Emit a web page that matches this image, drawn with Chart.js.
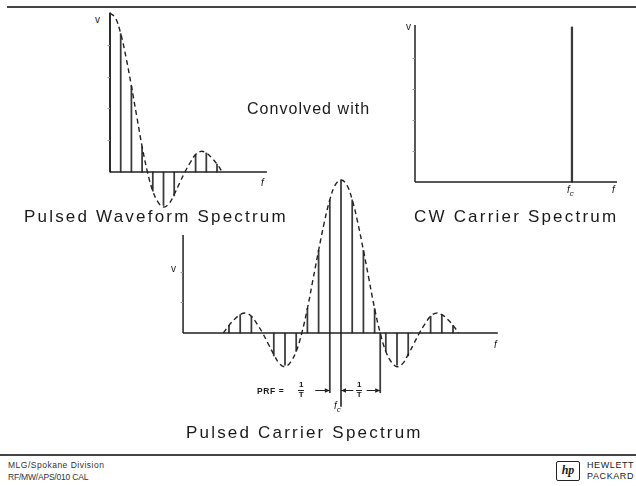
<!DOCTYPE html>
<html>
<head>
<meta charset="utf-8">
<script src="https://cdn.jsdelivr.net/npm/chart.js@4"></script>
<style>
  html, body { margin: 0; padding: 0; background: #fff; }
  #page { position: relative; width: 636px; height: 486px; overflow: hidden; background: #fff;
          font-family: "Liberation Sans", Arial, sans-serif; color: #1a1a1a; }
  canvas { position: absolute; }
  .t { position: absolute; white-space: nowrap; line-height: 1; }
  .title { font-size: 17px; letter-spacing: 2.2px; }
  .ax { font-size: 10px; }
  .sub { font-size: 8px; position: relative; top: 3px; }
  .small { font-size: 8.5px; font-weight: bold; letter-spacing: 0.6px; }
  .frac { display: inline-block; text-align: center; font-size: 8px; font-weight: bold; line-height: 8px; }
  .frac span { display: block; }
  .frac .num { border-bottom: 1px solid #222; padding: 0 1px 1px; }
  .rule { position: absolute; left: 7px; right: 0; height: 1.5px; background: #444; }
  .foot { font-size: 8.5px; color: #333; }
  .logo { position: absolute; left: 556px; top: 461px; width: 22px; height: 18px; border: 1.5px solid #222;
          border-radius: 2px; font: italic bold 12px "Liberation Serif", serif; text-align: center; line-height: 17px; }
  .hp { font-size: 9px; letter-spacing: 0.6px; line-height: 11px; }
</style>
</head>
<body>
<div id="page">
  <div class="rule" style="top:6px;"></div>
  <div class="rule" style="top:454px;left:0;"></div>

  <canvas id="pwChart" style="left:100px;top:5px;" width="175" height="210"></canvas>
  <canvas id="cwChart" style="left:405px;top:15px;" width="220" height="175"></canvas>
  <canvas id="pcChart" style="left:175px;top:172px;" width="330" height="238"></canvas>

  <!-- chart texts -->
  <div class="t ax" style="left:95px;top:15px;">v</div>
  <div class="t ax" style="left:261px;top:178px;font-style:italic;">f</div>
  <div class="t title" style="left:24px;top:208px;">Pulsed Waveform Spectrum</div>

  <div class="t title" style="left:247px;top:101px;font-size:16px;letter-spacing:1.05px;">Convolved with</div>

  <div class="t ax" style="left:406px;top:22px;">v</div>
  <div class="t ax" style="left:567px;top:185px;font-style:italic;">f<span class="sub">c</span></div>
  <div class="t ax" style="left:612px;top:185px;font-style:italic;">f</div>
  <div class="t title" style="left:414px;top:208px;">CW Carrier Spectrum</div>

  <div class="t ax" style="left:171px;top:264px;">v</div>
  <div class="t ax" style="left:494px;top:340px;font-style:italic;">f</div>
  <div class="t small" style="left:257px;top:387px;">PRF =</div>
  <div class="t frac" style="left:298px;top:381px;"><span class="num">1</span><span>T</span></div>
  <div class="t frac" style="left:356px;top:381px;"><span class="num">1</span><span>T</span></div>
  <div class="t ax" style="left:334px;top:401px;font-style:italic;">f<span class="sub">c</span></div>
  <div class="t title" style="left:186px;top:424px;">Pulsed Carrier Spectrum</div>

  <!-- footer -->
  <div class="t foot" style="left:8px;top:461px;letter-spacing:0.5px;">MLG/Spokane Division</div>
  <div class="t foot" style="left:8px;top:473px;letter-spacing:-0.2px;">RF/MW/APS/010 CAL</div>
  <div class="logo">hp</div>
  <div class="t hp" style="left:587px;top:460px;">HEWLETT<br>PACKARD</div>
</div>

<script>
  'use strict';

  // ==================== DATA ====================
  // Pulsed waveform spectrum: spectral lines at multiples of the PRF (index k)
  const pwLineK = [0, 1, 2, 3, 4, 5, 6, 8, 9, 10];
  const pwLineV = [1.00, 0.87, 0.54, 0.16, -0.12, -0.21, -0.15, 0.11, 0.12, 0.05];
  // sin(x)/x envelope
  const pwEnvK = [0, 0.5, 1, 1.5, 2, 2.5, 3, 3.5, 4, 4.5, 5, 5.5, 6, 6.5, 7, 7.5, 8, 8.5, 9, 9.5, 10, 10.5];
  const pwEnvV = [1.00, 0.97, 0.87, 0.72, 0.54, 0.35, 0.16, 0.00, -0.12, -0.19, -0.22, -0.20, -0.14, -0.07, 0.00, 0.06, 0.11, 0.13, 0.12, 0.09, 0.05, 0.00];

  // CW carrier: one line at fc
  const cwLineF = [10];
  const cwLineV = [1.00];

  // Pulsed carrier spectrum: lines centred on fc (k = 0)
  const pcLineK = [-10, -9, -8, -6, -5, -4, -3, -2, -1, 0, 1, 2, 3, 4, 5, 6, 8, 9, 10];
  const pcLineV = [0.05, 0.12, 0.11, -0.15, -0.21, -0.12, 0.16, 0.54, 0.87, 1.00, 0.87, 0.54, 0.16, -0.12, -0.21, -0.15, 0.11, 0.12, 0.05];
  const pcEnvK = [-10.5, -10, -9.5, -9, -8.5, -8, -7.5, -7, -6.5, -6, -5.5, -5, -4.5, -4, -3.5, -3, -2.5, -2, -1.5, -1, -0.5,
                  0, 0.5, 1, 1.5, 2, 2.5, 3, 3.5, 4, 4.5, 5, 5.5, 6, 6.5, 7, 7.5, 8, 8.5, 9, 9.5, 10, 10.5];
  const pcEnvV = [0.00, 0.05, 0.09, 0.12, 0.13, 0.11, 0.06, 0.00, -0.07, -0.14, -0.20, -0.22, -0.19, -0.12, 0.00, 0.16, 0.35, 0.54, 0.72, 0.87, 0.97,
                  1.00, 0.97, 0.87, 0.72, 0.54, 0.35, 0.16, 0.00, -0.12, -0.19, -0.22, -0.20, -0.14, -0.07, 0.00, 0.06, 0.11, 0.13, 0.12, 0.09, 0.05, 0.00];
  // dimension (extension) lines under the PRF / 1/T marks
  const pcDimK = [-1, 0, 3.5];
  const pcDimLow = [-0.39, -0.48, -0.39];

  const INK = '#222';

  // ==================== PLUGINS ====================
  // draws the hand-style axes: baseline at v = 0 and a v axis that only runs upward
  const axisLines = {
    id: 'axisLines',
    afterDraw(chart, args, o) {
      const { ctx, scales: { x, y } } = chart;
      ctx.save();
      ctx.strokeStyle = INK;
      ctx.lineWidth = 1.5;
      ctx.beginPath();
      ctx.moveTo(x.getPixelForValue(o.xFrom), y.getPixelForValue(0));
      ctx.lineTo(x.getPixelForValue(o.xTo), y.getPixelForValue(0));
      ctx.moveTo(x.getPixelForValue(o.yAt), y.getPixelForValue(0));
      ctx.lineTo(x.getPixelForValue(o.yAt), y.getPixelForValue(o.yTop));
      ctx.stroke();
      ctx.lineWidth = 1;
      ctx.strokeStyle = '#999';
      ctx.beginPath();
      (o.ticks || []).forEach(v => {
        const py = Math.round(y.getPixelForValue(v)) + 0.5;
        const px = x.getPixelForValue(o.yAt);
        ctx.moveTo(px - 2.5, py);
        ctx.lineTo(px, py);
      });
      ctx.stroke();
      ctx.restore();
    }
  };

  // dimension arrows for PRF = 1/T and 1/T
  const dimArrows = {
    id: 'dimArrows',
    afterDraw(chart, args, o) {
      if (!o.arrows) return;
      const { ctx, scales: { x, y } } = chart;
      ctx.save();
      ctx.strokeStyle = INK;
      ctx.fillStyle = INK;
      ctx.lineWidth = 1;
      o.arrows.forEach(([from, to]) => {
        const x0 = x.getPixelForValue(from), x1 = x.getPixelForValue(to);
        const py = Math.round(y.getPixelForValue(o.at)) + 0.5;
        const dir = Math.sign(x1 - x0);
        ctx.beginPath();
        ctx.moveTo(x0, py);
        ctx.lineTo(x1, py);
        ctx.stroke();
        ctx.beginPath();
        ctx.moveTo(x1, py);
        ctx.lineTo(x1 - dir * 5, py - 2.2);
        ctx.lineTo(x1 - dir * 5, py + 2.2);
        ctx.closePath();
        ctx.fill();
      });
      ctx.restore();
    }
  };

  // ==================== CHART BUILDER ====================
  function pts(xs, ys) {
    return xs.map((v, i) => ({ x: v, y: ys[i] }));
  }

  function makeChart(id, xr, yr, datasets, axes, arrows) {
    return new Chart(document.getElementById(id), {
      type: 'bar',
      data: { datasets: datasets },
      options: {
        responsive: false,
        animation: false,
        events: [],
        layout: { padding: 0 },
        plugins: {
          legend: { display: false },
          tooltip: { enabled: false },
          axisLines: axes,
          dimArrows: arrows || {}
        },
        scales: {
          x: { type: 'linear', display: false, offset: false, min: xr[0], max: xr[1] },
          y: { type: 'linear', display: false, min: yr[0], max: yr[1] }
        }
      },
      plugins: [axisLines, dimArrows]
    });
  }

  const lineBars = (data, w) => ({
    type: 'bar', data: data, backgroundColor: '#3a3a3a', borderWidth: 0,
    barThickness: w || 1.1, grouped: false, order: 2
  });
  const envelope = data => ({
    type: 'line', data: data, borderColor: INK, borderWidth: 1.4, borderDash: [5, 3.5],
    pointRadius: 0, tension: 0.4, fill: false, order: 1
  });

  // ==================== RENDER ====================
  makeChart('pwChart', [-0.935, 15.42], [-0.27, 1.05], [
    lineBars(pts(pwLineK, pwLineV)),
    envelope(pts(pwEnvK, pwEnvV))
  ], { xFrom: 0, xTo: 14.67, yAt: 0, yTop: 1.0, ticks: [0.2, 0.4, 0.6, 0.8] });

  makeChart('cwChart', [-0.637, 13.38], [-0.0516, 1.077], [
    lineBars(pts(cwLineF, cwLineV), 1.6)
  ], { xFrom: 0, xTo: 12.87, yAt: 0, yTop: 1.013, ticks: [0.2, 0.4, 0.6, 0.8] });

  makeChart('pcChart', [-14.82, 14.64], [-0.503, 1.052], [
    lineBars(pts(pcLineK, pcLineV)),
    lineBars(pcDimK.map((k, i) => ({ x: k, y: [pcDimLow[i], 0] }))),
    envelope(pts(pcEnvK, pcEnvV))
  ], { xFrom: -14.1, xTo: 14.0, yAt: -14.1, yTop: 0.64, ticks: [0.2, 0.4] },
     { at: -0.373, arrows: [[-2.3, -1], [1.1, 0], [2.3, 3.5]] });
</script>
</body>
</html>
